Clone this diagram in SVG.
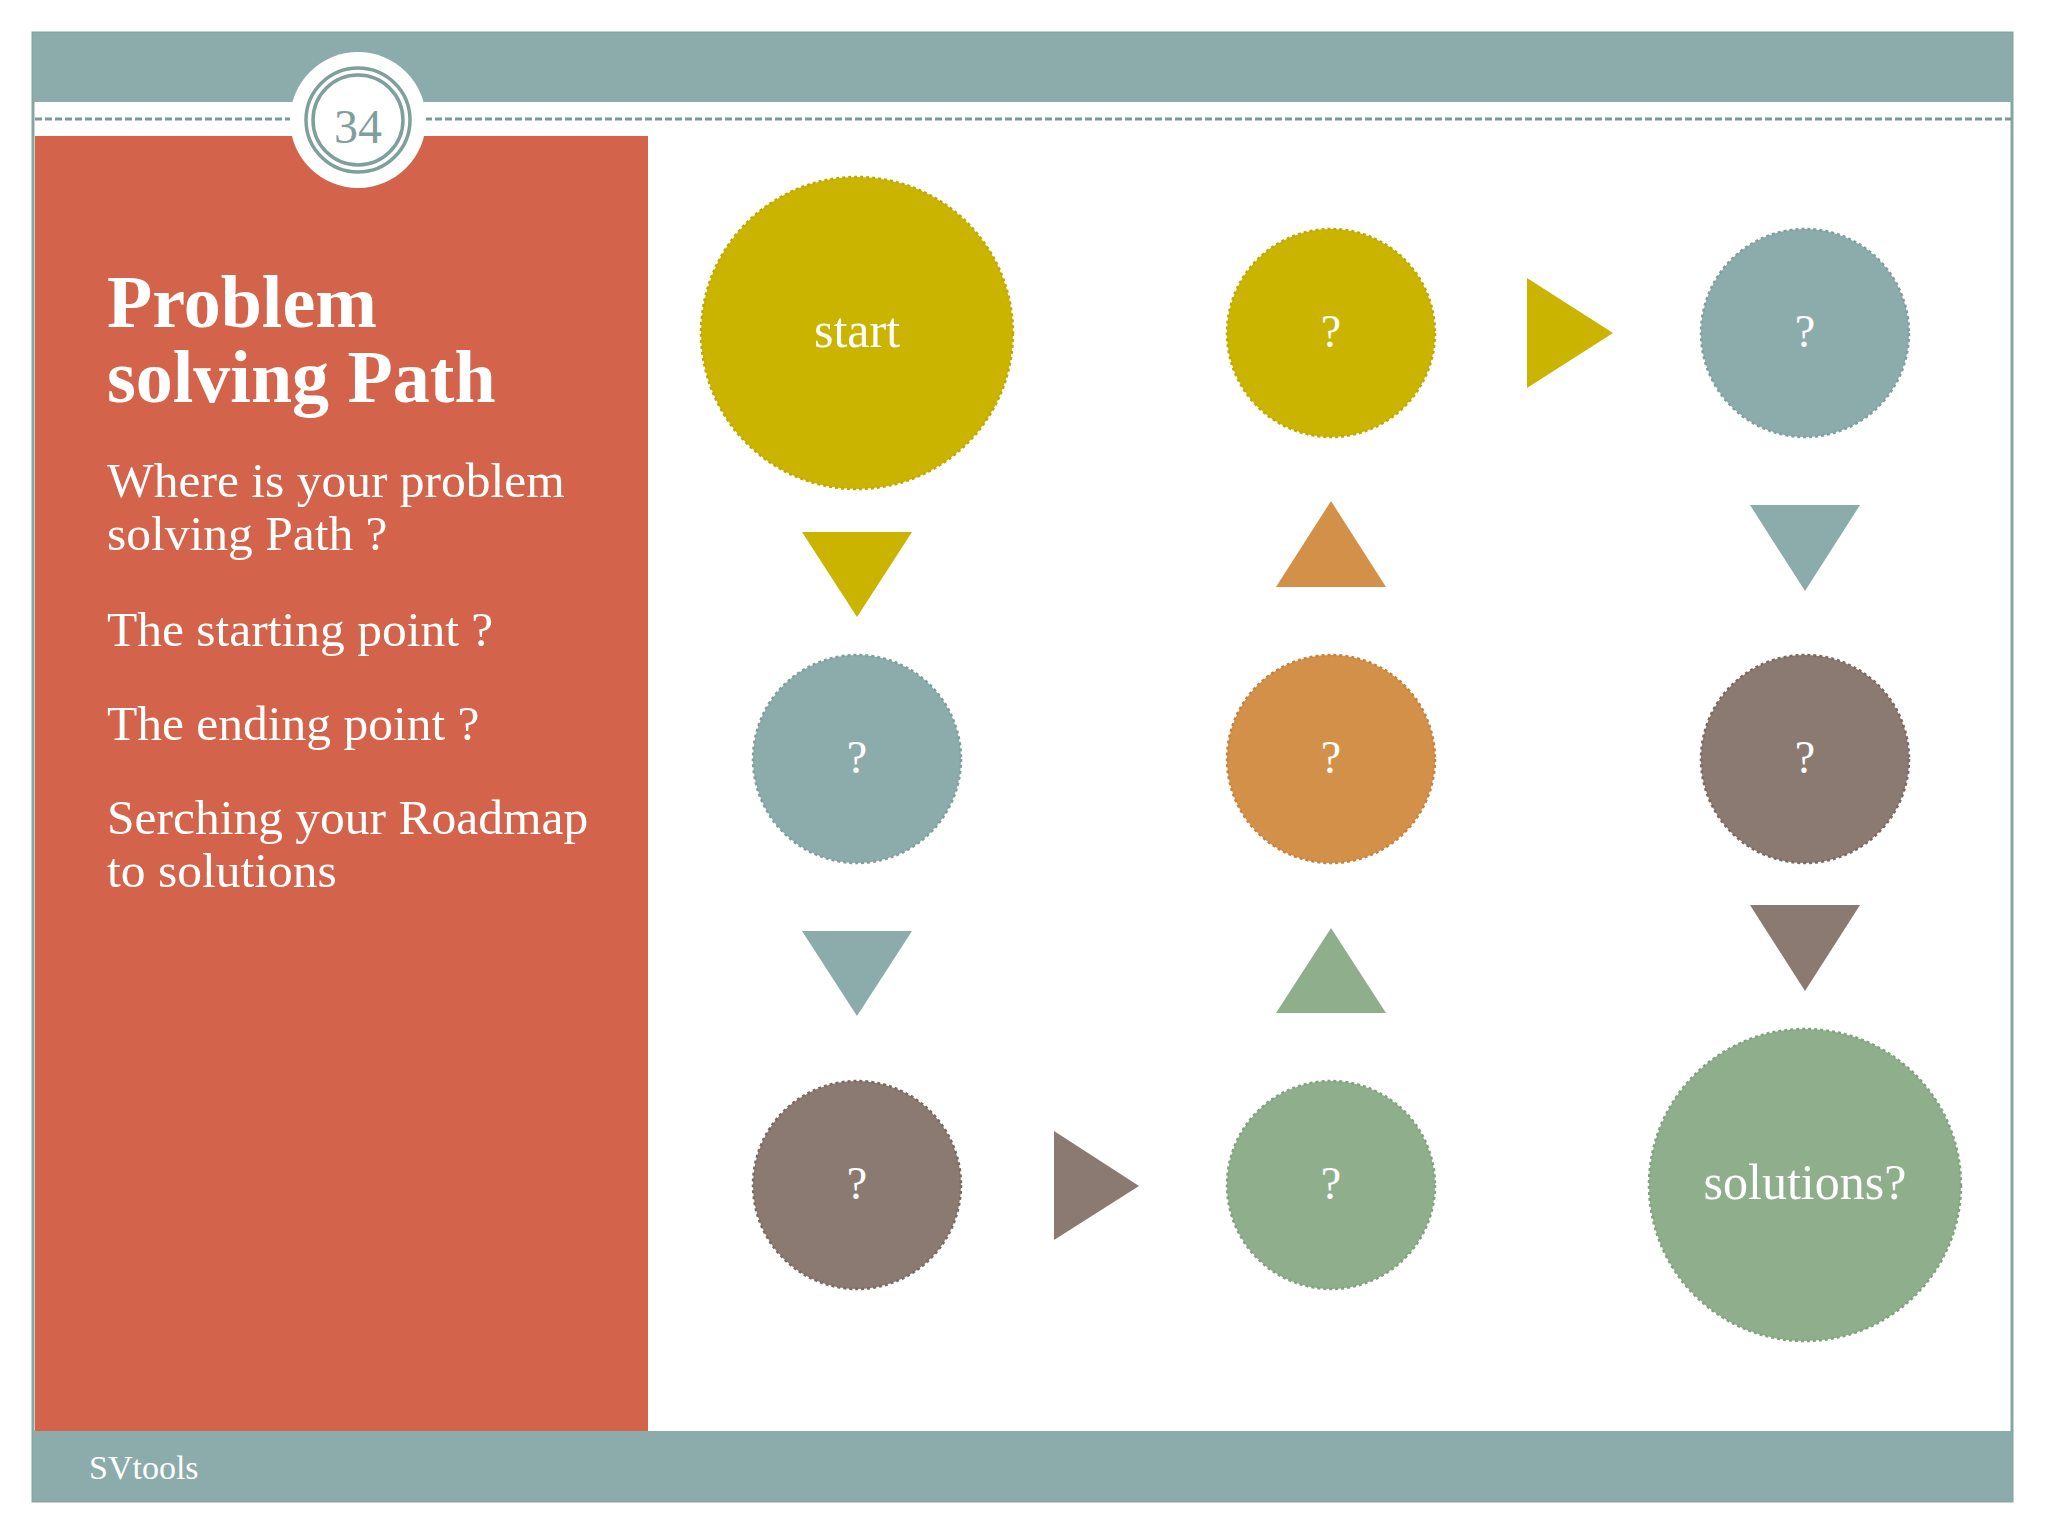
<svg xmlns="http://www.w3.org/2000/svg" width="2048" height="1536" viewBox="0 0 2048 1536">
<style>
.serif{font-family:"Liberation Serif","DejaVu Serif",serif;fill:#ffffff}
.lbl{font-size:50px;text-anchor:middle}
.q{font-size:46px;text-anchor:middle}
.body{font-size:49.5px}
.title{font-size:74px;font-weight:bold}
.node{stroke-width:2.5;stroke-dasharray:3 3}
</style>
<rect x="0" y="0" width="2048" height="1536" fill="#ffffff"/>
<g id="frame">
<rect x="33" y="33" width="1979" height="1468" fill="#ffffff" stroke="#86a6a4" stroke-width="3"/>
<rect x="33" y="33" width="1979" height="69" fill="#8cacab"/>
<line x1="35" y1="119" x2="2012" y2="119" stroke="#7a9a97" stroke-width="3" stroke-dasharray="7 3"/>
<rect x="35" y="136" width="613" height="1295" fill="#d3634a"/>
<rect x="33" y="1431" width="1979" height="70" fill="#8cacab"/>
<text class="serif" x="89" y="1479" font-size="34">SVtools</text>
</g>
<g id="badge">
<circle cx="358" cy="120" r="68" fill="#ffffff"/>
<circle cx="358" cy="120" r="52" fill="none" stroke="#7f9f9c" stroke-width="3.5"/>
<circle cx="358" cy="120" r="45" fill="none" stroke="#7f9f9c" stroke-width="3.5"/>
<text x="358" y="143" font-family="Liberation Serif, DejaVu Serif, serif" font-size="48" fill="#7f9f9c" text-anchor="middle">34</text>
</g>
<g id="sidebar-text">
<text class="serif title" x="107" y="327">Problem</text>
<text class="serif title" x="107" y="402">solving Path</text>
<text class="serif body" x="107" y="497">Where is your problem</text>
<text class="serif body" x="107" y="550">solving Path ?</text>
<text class="serif body" x="107" y="646">The starting point ?</text>
<text class="serif body" x="107" y="740">The ending point ?</text>
<text class="serif body" x="107" y="834">Serching your Roadmap</text>
<text class="serif body" x="107" y="887">to solutions</text>
</g>
<g id="connectors">
<polygon points="802,532 912,532 857,617" fill="#cbb400"/>
<polygon points="802,931 912,931 857,1016" fill="#8cacab"/>
<polygon points="1054,1131 1139,1186 1054,1240" fill="#8b7a72"/>
<polygon points="1331,928 1386,1013 1276,1013" fill="#8faf8c"/>
<polygon points="1331,501 1386,587 1276,587" fill="#d39049"/>
<polygon points="1527,278 1613,333 1527,388" fill="#cbb400"/>
<polygon points="1750,505 1860,505 1805,591" fill="#8cacab"/>
<polygon points="1750,905 1860,905 1805,991" fill="#8b7a72"/>
</g>
<g id="node-start">
<circle class="node" cx="857" cy="333" r="156" fill="#cbb400" stroke="#bfa900"/>
<text class="serif lbl" x="857" y="347">start</text>
</g>
<g id="node-c1r2">
<circle class="node" cx="857" cy="759" r="104" fill="#8cacab" stroke="#7f9f9c"/>
<text class="serif q" x="857" y="773">?</text>
</g>
<g id="node-c1r3">
<circle class="node" cx="857" cy="1185" r="104" fill="#8b7a72" stroke="#7a6a62"/>
<text class="serif q" x="857" y="1199">?</text>
</g>
<g id="node-c2r3">
<circle class="node" cx="1331" cy="1185" r="104" fill="#8faf8c" stroke="#82a27f"/>
<text class="serif q" x="1331" y="1199">?</text>
</g>
<g id="node-c2r2">
<circle class="node" cx="1331" cy="759" r="104" fill="#d39049" stroke="#c5833d"/>
<text class="serif q" x="1331" y="773">?</text>
</g>
<g id="node-c2r1">
<circle class="node" cx="1331" cy="333" r="104" fill="#cbb400" stroke="#bfa900"/>
<text class="serif q" x="1331" y="347">?</text>
</g>
<g id="node-c3r1">
<circle class="node" cx="1805" cy="333" r="104" fill="#8cacab" stroke="#7f9f9c"/>
<text class="serif q" x="1805" y="347">?</text>
</g>
<g id="node-c3r2">
<circle class="node" cx="1805" cy="759" r="104" fill="#8b7a72" stroke="#7a6a62"/>
<text class="serif q" x="1805" y="773">?</text>
</g>
<g id="node-solutions">
<circle class="node" cx="1805" cy="1185" r="156" fill="#8faf8c" stroke="#82a27f"/>
<text class="serif lbl" x="1805" y="1199">solutions?</text>
</g>
</svg>
